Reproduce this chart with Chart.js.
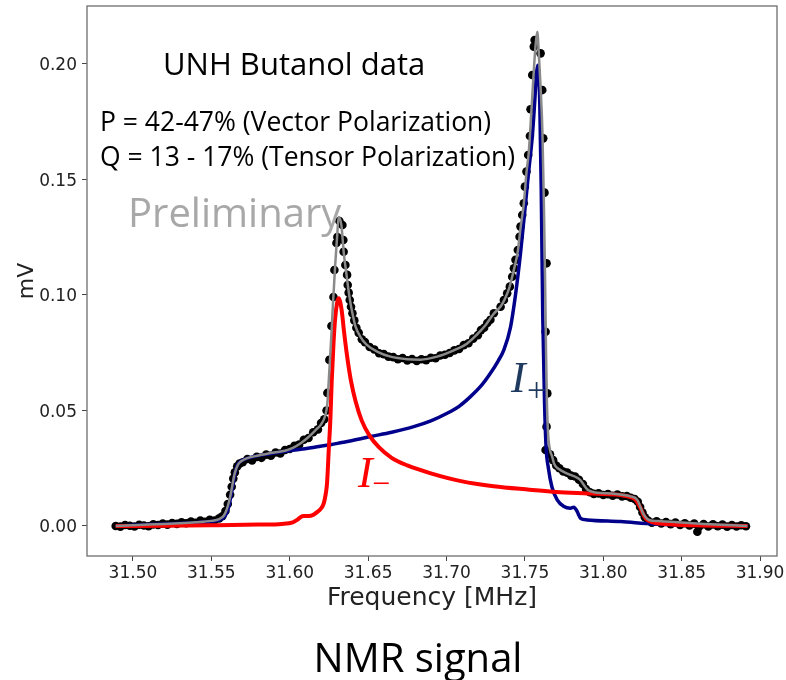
<!DOCTYPE html>
<html><head><meta charset="utf-8">
<script src="https://cdn.jsdelivr.net/npm/chart.js@4.4.1/dist/chart.umd.min.js"></script>
<style>html,body{margin:0;padding:0;background:#fff}</style>
</head><body>
<canvas id="c" width="786" height="680"></canvas>
<script>
// ---- tick labels ----
const xTicks = [31.50, 31.55, 31.60, 31.65, 31.70, 31.75, 31.80, 31.85, 31.90];
const yTicks = [0.00, 0.05, 0.10, 0.15, 0.20];

// ---- measured data (black dots) ----
const measFreq = [
31.489,31.492,31.495,31.498,31.501,31.504,31.507,31.510,31.513,31.516,31.519,31.522,31.525,31.528,31.531,31.534,31.537,31.540,31.543,31.546,31.549,31.552,31.555,31.557,31.559,31.5605,31.562,31.563,31.564,31.565,31.5665,31.568,31.570,31.573,31.576,31.579,31.582,31.585,31.588,31.591,31.594,31.597,31.600,31.603,31.606,31.609,31.612,31.615,31.618,31.620,31.622,31.6235,
31.624,31.6253,31.6266,31.6279,31.6285,31.6298,31.6304,31.6317,31.6336,31.6342,31.6344,31.6355,31.6366,31.6370,31.6376,31.6383,31.6391,
31.6400,31.6412,31.6425,31.644,31.646,31.648,31.651,31.654,31.657,31.660,31.663,31.666,31.669,31.672,31.675,31.678,31.681,31.684,31.687,31.690,31.693,31.696,31.699,31.702,31.705,31.708,31.711,31.714,31.717,31.720,31.722,31.724,31.726,31.728,
31.7302,31.7345,31.7366,31.7387,31.7404,31.7419,31.7430,31.7440,31.7455,31.7466,31.7472,31.7483,31.7493,31.7500,31.7510,31.7521,31.7532,31.7536,31.7547,31.7557,31.7562,
31.7600,31.7611,31.7617,31.7625,31.7638,31.7632,31.7643,31.7638,31.7632,
31.7660,31.7680,31.7700,31.7720,31.7745,31.7770,31.7795,31.7820,31.7845,31.7870,31.7890,31.7915,31.7940,31.7970,31.8000,31.8030,31.8060,31.8090,31.8120,31.8150,31.8175,31.8200,31.8220,31.8235,31.8250,31.8265,31.8285,31.8310,31.8340,31.8370,31.8400,31.8430,31.8460,31.8490,31.8520,31.8550,31.8580,31.8600,31.8610,31.8640,31.8670,31.8700,31.8730,31.8760,31.8790,31.8820,31.8850,31.8880,31.8910
];
const measSignal = [
0.0000,-0.0003,0.0004,0.0001,-0.0002,0.0005,0.0002,-0.0001,0.0007,0.0004,0.0010,0.0006,0.0013,0.0009,0.0016,0.0012,0.0019,0.0014,0.0023,0.0018,0.0027,0.0024,0.0033,0.0042,0.0065,0.0095,0.0135,0.0170,0.0205,0.0232,0.0258,0.0270,0.0276,0.0290,0.0284,0.0299,0.0295,0.0309,0.0304,0.0318,0.0314,0.0329,0.0333,0.0347,0.0352,0.0373,0.0381,0.0406,0.0418,0.0446,0.0462,0.0500,
0.0576,0.0719,0.0866,0.0991,0.1108,0.1225,0.1251,0.1320,0.1303,0.1238,0.1187,0.1130,0.1087,0.1043,0.1010,0.0978,0.0949,
0.0921,0.0890,0.0858,0.0836,0.0808,0.0796,0.0775,0.0764,0.0748,0.0744,0.0733,0.0731,0.0722,0.0727,0.0717,0.0723,0.0714,0.0722,0.0718,0.0728,0.0726,0.0738,0.0741,0.0749,0.0760,0.0766,0.0783,0.0791,0.0811,0.0826,0.0848,0.0858,0.0879,0.0893,
0.0921,0.0949,0.0978,0.1007,0.1036,0.1079,0.1116,0.1152,0.1195,0.1252,0.1296,0.1346,0.1397,0.1469,0.1534,0.1606,0.1688,0.1804,0.1952,0.2075,0.2104,
0.2046,0.1887,0.1678,0.1443,0.1137,0.0841,0.0574,0.0430,0.0329,
0.0310,0.0285,0.0262,0.0250,0.0236,0.0231,0.0218,0.0214,0.0200,0.0182,0.0160,0.0146,0.0139,0.0141,0.0134,0.0138,0.0131,0.0136,0.0128,0.0130,0.0122,0.0117,0.0105,0.0082,0.0058,0.0038,0.0024,0.0014,0.0020,0.0011,0.0017,0.0008,0.0015,0.0004,0.0012,0.0002,0.0010,-0.0025,-0.0004,0.0008,-0.0002,0.0007,-0.0001,0.0006,-0.0003,0.0004,-0.0002,0.0003,-0.0001
];

// ---- total fit (gray line) ----
const fitFreq = [
31.489,31.500,31.510,31.520,31.530,31.540,31.550,31.555,31.558,31.560,31.562,31.5635,31.565,31.567,31.569,31.573,31.580,31.590,31.597,31.602,31.607,31.612,31.6165,31.620,31.6225,31.624,31.625,31.6262,31.6275,31.6290,31.6303,31.6312,31.6330,31.6340,31.6345,31.6360,31.6375,31.6390,31.6405,31.6420,31.645,31.649,31.6557,31.6643,31.675,31.6834,31.694,31.7046,31.7132,31.7196,31.725,31.730,31.7345,31.7370,31.7400,31.7430,31.7455,31.7472,31.7493,31.7510,31.7525,31.7540,31.7555,31.7568,31.7579,31.7590,31.7600,31.7612,31.7621,31.7628,31.7634,31.7640,31.7648,31.7660,31.7674,31.7685,31.7700,31.7727,31.7760,31.7791,31.7825,31.7855,31.7875,31.7898,31.7930,31.7962,31.8068,31.8174,31.8217,31.8238,31.8259,31.8291,31.8350,31.8430,31.8642,31.8919
];
const fitTotal = [
0.0000,0.0003,0.0006,0.0009,0.0012,0.0016,0.0022,0.0030,0.0045,0.0075,0.0125,0.0180,0.0230,0.0265,0.0280,0.0294,0.0305,0.0318,0.0326,0.0338,0.0358,0.0385,0.0415,0.0440,0.0475,0.0530,0.0640,0.0780,0.0950,0.1130,0.1260,0.1338,0.1300,0.1220,0.1180,0.1100,0.1020,0.0955,0.0905,0.0863,0.0820,0.0785,0.0755,0.0733,0.0722,0.0720,0.0733,0.0760,0.0790,0.0830,0.0870,0.0918,0.0950,0.0980,0.1030,0.1110,0.1190,0.1290,0.1395,0.1530,0.1620,0.1780,0.1950,0.2080,0.2140,0.2030,0.1900,0.1700,0.1400,0.1100,0.0800,0.0550,0.0400,0.0330,0.0300,0.0272,0.0255,0.0242,0.0230,0.0221,0.0212,0.0198,0.0178,0.0158,0.0148,0.0144,0.0139,0.0128,0.0113,0.0080,0.0048,0.0026,0.0021,0.0018,0.0009,0.0000
];

// ---- I+ component (blue) ----
const plusFreq = [
31.4890,31.5000,31.5100,31.5217,31.5350,31.5493,31.5550,31.5578,31.5600,31.5615,31.5632,31.5653,31.5670,31.5690,31.5770,31.5870,31.5961,31.6070,31.6174,31.6260,31.6323,31.6400,31.6515,31.6650,31.6791,31.6900,31.7004,31.7080,31.7153,31.7220,31.7280,31.7330,31.7366,31.7408,31.7440,31.7472,31.7504,31.7525,31.7547,31.7562,31.7574,31.7582,31.7590,31.7595,31.7604,31.7614,31.7625,31.7635,31.7650,31.7672,31.7706,31.7749,31.7791,31.7812,31.7834,31.7845,31.7855,31.7898,31.8111,31.8323,31.8600,31.8920
];
const plusSignal = [
0.0000,0.0003,0.0006,0.0009,0.0013,0.0019,0.0026,0.0035,0.0060,0.0095,0.0156,0.0235,0.0268,0.0282,0.0300,0.0312,0.0322,0.0332,0.0343,0.0352,0.0360,0.0370,0.0387,0.0406,0.0430,0.0455,0.0488,0.0518,0.0560,0.0606,0.0661,0.0715,0.0762,0.0860,0.1000,0.1180,0.1397,0.1541,0.1685,0.1830,0.1960,0.1995,0.1930,0.1830,0.1469,0.0906,0.0545,0.0343,0.0250,0.0170,0.0113,0.0084,0.0077,0.0081,0.0062,0.0045,0.0033,0.0026,0.0019,0.0009,0.0004,0.0000
];

// ---- I- component (red) ----
const minusFreq = [
31.4890,31.5200,31.5500,31.5800,31.5950,31.6020,31.6047,31.6068,31.6090,31.6120,31.6150,31.6174,31.6200,31.6217,31.6230,31.6238,31.6249,31.6260,31.6268,31.6280,31.6290,31.6302,31.6312,31.6322,31.6334,31.6345,31.6365,31.6390,31.6420,31.6460,31.6510,31.6570,31.6650,31.6750,31.6900,31.7100,31.7300,31.7530,31.7700,31.7900,31.8000,31.8111,31.8180,31.8207,31.8238,31.8255,31.8270,31.8302,31.8400,31.8600,31.8920
];
const minusSignal = [
0.0000,0.0001,0.0003,0.0006,0.0009,0.0016,0.0026,0.0038,0.0043,0.0043,0.0048,0.0060,0.0076,0.0098,0.0140,0.0185,0.0329,0.0473,0.0630,0.0800,0.0900,0.0965,0.0986,0.0970,0.0920,0.0850,0.0740,0.0630,0.0540,0.0455,0.0390,0.0340,0.0295,0.0262,0.0228,0.0193,0.0172,0.0157,0.0147,0.0141,0.0138,0.0134,0.0124,0.0113,0.0077,0.0050,0.0033,0.0019,0.0008,0.0003,0.0000
];

const pts = (xs, ys) => xs.map((x, i) => ({x: x, y: ys[i]}));

const framePlugin = {
  id: 'frame',
  afterDatasetsDraw(chart) {
    const {ctx, chartArea: a} = chart;
    ctx.save();
    ctx.strokeStyle = '#6e6e6e';
    ctx.lineWidth = 1.3;
    ctx.strokeRect(a.left, a.top, a.right - a.left, a.bottom - a.top);
    ctx.restore();
  }
};

const textPlugin = {
  id: 'notes',
  afterDraw(chart) {
    const ctx = chart.ctx;
    ctx.save();
    ctx.textBaseline = 'alphabetic';
    ctx.textAlign = 'left';
    ctx.fillStyle = '#000';
    ctx.font = '31px "Open Sans"';
    ctx.fillText('UNH Butanol data', 163, 75);
    ctx.font = '26.5px "Open Sans"';
    ctx.fillText('P = 42-47% (Vector Polarization)', 100, 131);
    ctx.fillText('Q = 13 - 17% (Tensor Polarization)', 100, 166);
    ctx.fillStyle = '#a8a8a8';
    ctx.font = '40px "Open Sans"';
    ctx.fillText('Preliminary', 128, 227);
    // I- label
    ctx.fillStyle = '#ff0000';
    ctx.font = 'italic 44px "Liberation Serif"';
    ctx.fillText('I', 358, 487);
    ctx.font = '32px "Liberation Serif"';
    ctx.fillText('\u2212', 372, 494);
    // I+ label
    ctx.fillStyle = '#1f3a5f';
    ctx.font = 'italic 44px "Liberation Serif"';
    ctx.fillText('I', 511, 392);
    ctx.font = '34px "Liberation Serif"';
    ctx.fillText('+', 527, 401);
    // bottom caption
    ctx.fillStyle = '#000';
    ctx.textAlign = 'center';
    ctx.font = '40px "Open Sans"';
    ctx.fillText('NMR signal', 418, 672);
    ctx.restore();
  }
};

new Chart(document.getElementById('c'), {
  type: 'scatter',
  data: {
    datasets: [
      {label: 'fit', data: pts(fitFreq, fitTotal), showLine: true, borderColor: '#8a8a8a', borderWidth: 2.5, pointRadius: 0, cubicInterpolationMode: 'monotone', order: 0},
      {label: 'I-', data: pts(minusFreq, minusSignal), showLine: true, borderColor: '#ff0000', borderWidth: 4, pointRadius: 0, cubicInterpolationMode: 'monotone', order: 1},
      {label: 'I+', data: pts(plusFreq, plusSignal), showLine: true, borderColor: '#00008b', borderWidth: 3.5, pointRadius: 0, cubicInterpolationMode: 'monotone', order: 2},
      {label: 'data', data: pts(measFreq, measSignal), showLine: false, pointRadius: 4.3, pointBackgroundColor: '#000', pointBorderColor: '#000', pointBorderWidth: 0, order: 3}
    ]
  },
  options: {
    responsive: false,
    animation: false,
    devicePixelRatio: 1,
    layout: {padding: {top: 6, right: 9, left: 0, bottom: 0}},
    plugins: {
      legend: {display: false},
      tooltip: {enabled: false},
      title: {display: false}
    },
    scales: {
      x: {
        type: 'linear', min: 31.4707, max: 31.9108,
        afterBuildTicks: s => { s.ticks = xTicks.map(v => ({value: v})); },
        afterFit: s => { s.height = 124; s.paddingLeft = 0; s.paddingRight = 0; },
        ticks: {callback: v => Number(v).toFixed(2), font: {family: 'DejaVu Sans', size: 17}, color: '#222', padding: 2, maxRotation: 0, autoSkip: false},
        grid: {drawOnChartArea: false, drawTicks: true, tickLength: 5, tickColor: '#444'},
        border: {display: false},
        title: {display: true, text: 'Frequency [MHz]', color: '#222', font: {family: 'DejaVu Sans', size: 25}, padding: {top: 0, bottom: 67}}
      },
      y: {
        type: 'linear', min: -0.013, max: 0.2251,
        afterBuildTicks: s => { s.ticks = yTicks.map(v => ({value: v})); },
        afterFit: s => { s.width = 87; s.paddingTop = 0; s.paddingBottom = 0; },
        ticks: {callback: v => Number(v).toFixed(2), font: {family: 'DejaVu Sans', size: 17}, color: '#222', padding: 5, autoSkip: false, labelOffset: 2},
        grid: {drawOnChartArea: false, drawTicks: true, tickLength: 5, tickColor: '#444'},
        border: {display: false},
        title: {display: true, text: 'mV', color: '#222', font: {family: 'DejaVu Sans', size: 22}, padding: {top: 14, bottom: 0}}
      }
    }
  },
  plugins: [framePlugin, textPlugin]
});
</script>
</body></html>
